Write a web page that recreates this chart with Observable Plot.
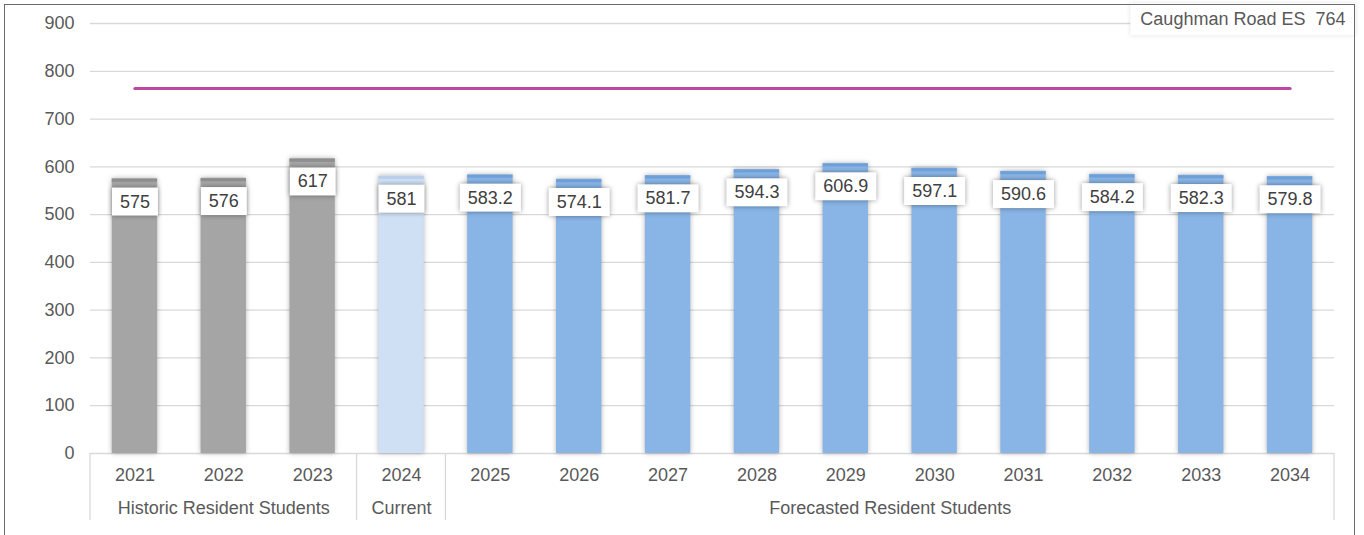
<!DOCTYPE html>
<html><head><meta charset="utf-8">
<script src="https://cdn.jsdelivr.net/npm/d3@7"></script>
<script src="https://cdn.jsdelivr.net/npm/@observablehq/plot@0.6"></script>
<style>
body{margin:0;background:#fff;}
#wrap{position:relative;width:1364px;height:535px;overflow:hidden;}
#border{position:absolute;left:4px;top:4px;width:1349px;height:580px;border:1px solid #6b6b6b;pointer-events:none;}
svg text{white-space:pre;}
.bars{filter:drop-shadow(0px 0px 2.5px rgba(0,0,0,0.3));}
</style></head><body><div id="wrap"><div id="border"></div></div>
<script>
// ---- data ----
const years = ["2021","2022","2023","2024","2025","2026","2027","2028","2029","2030","2031","2032","2033","2034"];
const values = [575, 576, 617, 581, 583.2, 574.1, 581.7, 594.3, 606.9, 597.1, 590.6, 584.2, 582.3, 579.8];
const labels = ["575","576","617","581","583.2","574.1","581.7","594.3","606.9","597.1","590.6","584.2","582.3","579.8"];
const periods = ["historic","historic","historic","current","forecast","forecast","forecast","forecast","forecast","forecast","forecast","forecast","forecast","forecast"];
const groupKeys = ["historic","current","forecast"];
const groupNames = ["Historic Resident Students","Current","Forecasted Resident Students"];
const schoolName = "Caughman Road ES";
const capacity = 764;
const yTicks = [0,100,200,300,400,500,600,700,800,900];

// ---- styles ----
const fills = {historic:"#a5a5a5", current:"#cfe0f5", forecast:"#88b4e6"};
const tops = {historic:"#8e8e8e", current:"#b9cfea", forecast:"#6f9fd9"};
const W = 1364, H = 535, ML = 90, MR = 30, MT = 23, MB = 82;
const step = (W - ML - MR) / years.length;

const data = years.map((y,i)=>({year:y, value:values[i], label:labels[i], period:periods[i]}));
const groups = groupKeys.map((k,i)=>({name:groupNames[i], years:years.filter((y,j)=>periods[j]===k)}));

const separators = (index, scales, vals, dims) => {
  const x = scales.x;
  const bw = x.bandwidth();
  const st = x.step ? x.step() : step;
  const gap = (st - bw) / 2;
  const y0 = dims.height - dims.marginBottom;
  const edges = groups.map(g => x(g.years[0]) - gap);
  edges.push(x(years[years.length-1]) + bw + gap);
  const g = d3.create("svg:g");
  g.selectAll("line").data(edges).join("line")
    .attr("x1", d=>d).attr("x2", d=>d).attr("y1", y0).attr("y2", y0+67)
    .attr("stroke", "#d9d9d9").attr("stroke-width", 1.3);
  return g.node();
};

const chart = Plot.plot({
  width: W, height: H, marginLeft: ML, marginRight: MR, marginTop: MT, marginBottom: MB,
  style: {fontFamily: "'Liberation Sans', Arial, sans-serif", fontSize: "18px", color: "#595959", background: "transparent", overflow: "visible"},
  x: {type: "band", domain: years, paddingInner: 0.49, paddingOuter: 0.245, round: false, axis: null},
  y: {domain: [0, 900], axis: null},
  color: {type: "identity"},
  marks: [
    Plot.gridY(yTicks, {stroke: "#d9d9d9", strokeOpacity: 1, strokeWidth: 1.3}),
    Plot.axisY(yTicks, {tickSize: 0, tickPadding: 16, fill: "#595959", fontSize: 18, label: null}),
    Plot.barY(data, {x: "year", y: "value", fill: d => fills[d.period], className: "bars"}),
    Plot.tickY(data, {x: "year", y: "value", stroke: d => tops[d.period], strokeWidth: 3, dy: 1.5}),
    Plot.line([{year: years[0], v: capacity}, {year: years[years.length-1], v: capacity}], {x: "year", y: "v", stroke: "#bb479f", strokeWidth: 3.2}),
    Plot.text(data, {x: "year", y: "value", text: "label", dy: 23, lineAnchor: "middle", fill: "#404040", fontSize: 18, className: "vlabels"}),
    Plot.text(data, {x: "year", text: "year", frameAnchor: "bottom", dy: 22, lineAnchor: "middle", fill: "#595959", fontSize: 18}),
    ...groups.map(g => Plot.text([g], {x: () => g.years[0], text: "name", frameAnchor: "bottom", dy: 55, dx: (g.years.length - 1) * step / 2, lineAnchor: "middle", fill: "#595959", fontSize: 18})),
    separators,
    Plot.text([schoolName + "  " + capacity], {text: d => d, frameAnchor: "top-right", dx: 11, dy: -4, textAnchor: "end", lineAnchor: "middle", fill: "#595959", fontSize: 18, className: "legend"})
  ]
});
const wrap = document.getElementById("wrap");
wrap.insertBefore(chart, wrap.firstChild);
chart.style.position = "absolute"; chart.style.left = "0"; chart.style.top = "0";

function boxes(selector, padX, padY, shadow) {
  chart.querySelectorAll(selector + " text").forEach(t => {
    const bb = t.getBBox();
    const r = document.createElementNS("http://www.w3.org/2000/svg", "rect");
    r.setAttribute("x", bb.x - padX); r.setAttribute("y", bb.y - padY);
    r.setAttribute("width", bb.width + 2*padX); r.setAttribute("height", bb.height + 2*padY);
    r.setAttribute("fill", "#fff");
    if (t.getAttribute("transform")) r.setAttribute("transform", t.getAttribute("transform"));
    r.style.filter = shadow;
    t.parentNode.insertBefore(r, t);
  });
}
boxes(".vlabels", 8, 4, "drop-shadow(0 0 2.5px rgba(0,0,0,0.4))");
boxes(".legend", 10, 6, "drop-shadow(0 0 2px rgba(0,0,0,0.12))");
</script></body></html>
